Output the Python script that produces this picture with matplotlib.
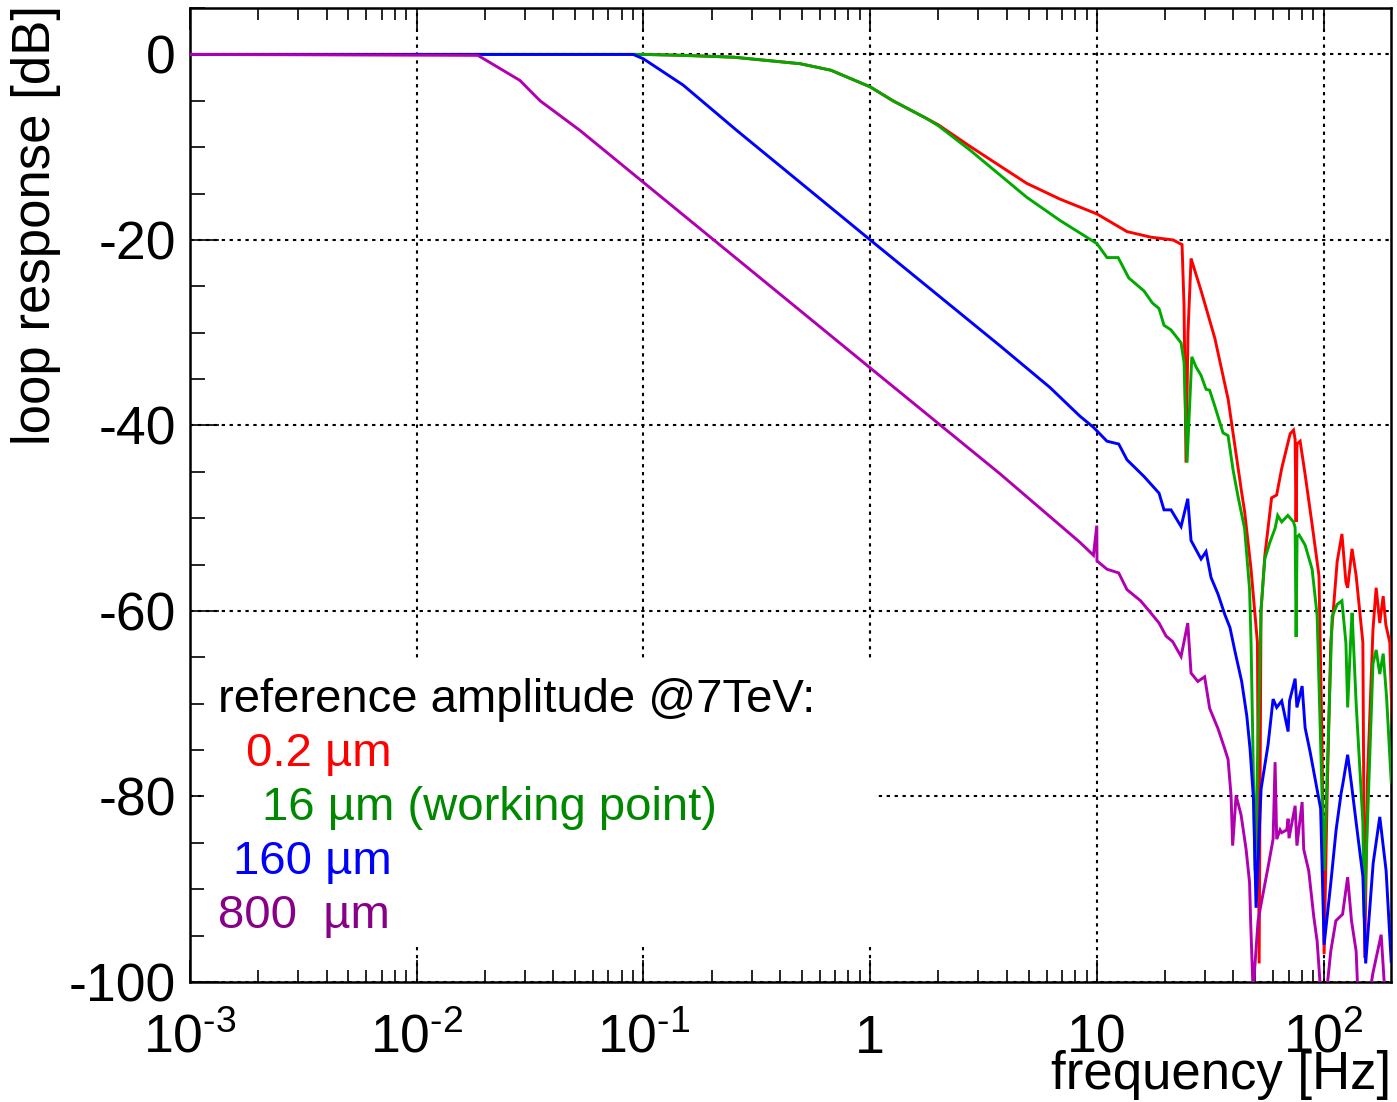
#!/usr/bin/env python3
"""plot.py -- loop response vs frequency for four reference amplitudes (ROOT-style look)."""
import matplotlib
matplotlib.use("Agg")
import matplotlib.pyplot as plt
from matplotlib.patches import Rectangle
from matplotlib.ticker import MultipleLocator, NullFormatter

plt.rcParams.update({"font.family": ["Liberation Sans", "DejaVu Sans"],
                     "mathtext.fontset": "custom",
                     "mathtext.rm": "Liberation Sans",
                     "mathtext.it": "Liberation Sans",
                     "axes.unicode_minus": False})

# --- 0.2 um (red) ---
RED_F = [0.001, 0.1, 0.15, 0.25, 0.49, 0.67, 1.0, 1.26, 1.77, 2.0, 2.75, 4.9, 6.87, 10.0,
         13.56, 17.26, 21.65, 23.25, 23.72, 24.2, 24.7, 25.2, 26.0, 28.8, 33.1, 37.9, 43.5,
         44.8, 47.8, 51.0, 51.9, 52.9, 55.0, 58.9, 62.0, 65.3, 71.1, 73.6, 74.8, 75.5, 76.2,
         78.7, 82.8, 88.9, 95.3, 98.4, 100.4, 103.5, 107.4, 114.6, 120.3, 125.3, 127.5, 133.3,
         139.0, 148.8, 151.7, 156.0, 164.9, 170.3, 176.7, 182.9, 187.9, 195.7, 200.0]
RED_DB = [0, 0, -0.1, -0.3, -1.0, -1.7, -3.5, -5.0, -6.9, -7.6, -9.9, -13.9, -15.6, -17.2,
          -19.1, -19.7, -20.0, -20.4, -20.5, -27.0, -44.0, -30.0, -22.0, -25.5, -30.6, -37.2, -47.3,
          -49.3, -55.5, -63.4, -98.0, -60.0, -54.0, -47.8, -47.5, -44.6, -40.9, -40.5, -41.5, -50.4, -42.0,
          -41.7, -45.3, -50.7, -56.2, -75.0, -97.0, -80.0, -63.4, -54.7, -51.7, -56.9, -57.5, -53.3,
          -56.2, -63.4, -97.4, -78.0, -62.0, -57.5, -61.3, -58.4, -61.5, -63.4, -72.0]

# --- 16 um, working point (green) ---
GREEN_F = [0.001, 0.1, 0.15, 0.25, 0.49, 0.67, 1.0, 1.26, 1.77, 2.0, 2.75, 4.9, 6.87, 10.0,
           11.07, 12.4, 13.81, 16.12, 17.56, 18.78, 19.75, 21.21, 23.49, 24.21, 24.96, 26.2,
           27.35, 28.77, 30.27, 31.4, 33.07, 35.97, 37.85, 39.83, 41.91, 44.77, 47.1, 47.82,
           49.8, 52.93, 54.96, 57.88, 61.02, 62.66, 65.27, 69.44, 73.58, 74.79, 75.55, 76.3,
           77.88, 82.78, 88.88, 93.53, 100.4, 108.9, 114.6, 120.3, 125.3, 127.5, 132.1, 133.4,
           139.0, 148.8, 150.8, 164.9, 170.3, 176.7, 182.9, 189.3, 198.4]
GREEN_DB = [0, 0, -0.1, -0.3, -1.0, -1.7, -3.5, -5.0, -6.9, -7.7, -10.3, -15.4, -17.9, -20.4,
            -21.9, -21.9, -24.1, -25.5, -26.8, -27.4, -29.2, -29.7, -31.1, -33.2, -44.0, -32.6,
            -33.7, -34.6, -36.1, -36.2, -37.9, -40.8, -41.1, -44.8, -47.7, -51.1, -57.7, -63.5,
            -88.0, -59.8, -54.4, -52.6, -51.1, -49.7, -50.4, -49.7, -50.4, -51.0, -62.8, -52.0,
            -51.8, -52.9, -55.5, -60.5, -88.0, -60.6, -59.3, -58.9, -63.5, -70.4, -62.0, -60.2,
            -70.0, -82.8, -93.0, -65.7, -64.2, -66.8, -64.6, -69.3, -78.4]

# --- 160 um (blue) ---
BLUE_F = [0.001, 0.09, 0.0999, 0.1495, 0.258, 1.0, 3.73, 6.2, 8.41, 9.65, 11.07, 12.47, 13.56,
          16.12, 18.78, 19.75, 21.21, 23.49, 25.14, 25.99, 28.77, 30.27, 31.85, 34.2, 36.64,
          38.6, 40.64, 43.47, 45.78, 47.34, 49.0, 50.3, 52.93, 56.83, 59.8, 62.03, 65.27, 69.65,
          70.65, 74.79, 76.17, 80.3, 82.78, 87.1, 91.62, 96.9, 100.4, 107.8, 113.4, 119.4,
          121.1, 127.5, 132.1, 139.0, 148.8, 153.1, 165.2, 176.7, 188.4, 198.4]
BLUE_DB = [0, 0, -0.47, -3.3, -8.2, -20.0, -31.4, -35.9, -39.0, -40.2, -41.7, -42.0, -43.7,
           -45.5, -47.3, -49.1, -49.1, -50.9, -47.9, -52.4, -54.4, -53.6, -56.4, -58.2, -60.4,
           -61.8, -64.4, -67.6, -71.3, -74.9, -80.3, -92.0, -79.2, -74.4, -69.5, -70.4, -69.7, -73.0,
           -69.7, -67.3, -70.4, -68.1, -72.6, -75.2, -78.1, -81.3, -96.0, -89.0, -83.6, -79.6,
           -78.8, -75.5, -78.4, -82.8, -88.6, -98.0, -87.2, -82.2, -88.0, -97.8]

# --- 800 um (magenta) ---
MAG_F = [0.001, 0.0186, 0.0203, 0.0285, 0.035, 0.0525, 0.1, 1.0, 3.73, 8.41, 9.65, 9.98, 10.0,
         11.07, 12.47, 13.56, 15.57, 17.26, 18.78, 20.16, 21.56, 23.49, 25.14, 25.99, 27.86,
         29.84, 31.4, 34.2, 36.64, 37.85, 39.02, 39.66, 41.06, 43.21, 45.46, 47.1, 47.6, 48.8,
         51.34, 52.93, 56.83, 59.8, 61.02, 62.03, 64.21, 65.27, 68.74, 69.65, 70.3, 74.79, 76.17,
         80.3, 81.61, 85.86, 90.43, 93.53, 96.9, 103.0, 107.4, 113.1, 121.1, 127.5, 132.6, 139.0,
         141.3, 160.0, 164.9, 179.2, 185.9, 198.4]
MAG_DB = [0, -0.1, -0.65, -2.8, -5.0, -8.2, -13.8, -33.8, -45.2, -52.6, -54.0, -50.8, -54.6,
          -55.5, -55.9, -57.7, -58.9, -60.2, -61.3, -62.7, -63.3, -64.9, -61.3, -66.7, -67.6,
          -67.1, -70.5, -72.7, -74.9, -76.0, -79.9, -85.3, -79.9, -82.0, -85.7, -89.3, -93.4, -101,
          -93.4, -91.6, -87.6, -84.6, -76.3, -84.6, -83.6, -83.9, -83.6, -82.4, -84.5, -81.0, -85.3,
          -80.6, -85.7, -88.0, -93.0, -95.6, -101, -101, -96.7, -93.4, -92.7, -88.7, -93.4, -96.7,
          -101, -101, -99.0, -94.9, -101, -101]

SERIES = [(RED_F, RED_DB, "#ff0000"), (GREEN_F, GREEN_DB, "#00aa00"),
          (BLUE_F, BLUE_DB, "#0000ff"), (MAG_F, MAG_DB, "#b000b0")]

LEGEND_TITLE = "reference amplitude @7TeV:"
LEGEND_ROWS = [("0.2 µm", "#ff0000", 0.0466), ("16 µm (working point)", "#008800", 0.0599),
               ("160 µm", "#0000ff", 0.0358), ("800  µm", "#880088", 0.0233)]

X_TICKS = [1e-3, 1e-2, 1e-1, 1, 10, 100]
X_LABELS = [r"$10^{\text{-}3}$", r"$10^{\text{-}2}$", r"$10^{\text{-}1}$", "1", "10", r"$10^{2}$"]
Y_TICKS = [-100, -80, -60, -40, -20, 0]


def main():
    fig = plt.figure(figsize=(13.97, 11.02), dpi=100)
    ax = fig.add_axes([0.1360, 0.1089, 0.8597, 0.8838])
    ax.set_xscale("log")

    for f, db, col in SERIES:
        ax.plot(f, db, color=col, lw=2.1, zorder=3, solid_joinstyle="miter")

    ax.set_xlim(1e-3, 198)
    ax.set_ylim(-100, 5)

    ax.set_xticks(X_TICKS)
    ax.set_xticklabels(X_LABELS)
    ax.xaxis.set_minor_formatter(NullFormatter())
    ax.set_yticks(Y_TICKS)
    ax.set_yticklabels([str(v) for v in Y_TICKS])
    ax.yaxis.set_minor_locator(MultipleLocator(5))

    ax.tick_params(axis="both", which="both", direction="in", width=1.2, colors="k")
    ax.tick_params(axis="x", which="major", length=16, top=True, labelsize=38.5, pad=51)
    ax.tick_params(axis="x", which="minor", length=8.6, top=True)
    ax.tick_params(axis="y", which="major", length=21, right=False, labelsize=38.5, pad=10)
    ax.tick_params(axis="y", which="minor", length=11, right=False)
    for lab in ax.get_xticklabels():
        lab.set_verticalalignment("baseline")

    for s in ax.spines.values():
        s.set_linewidth(1.8)

    ax.grid(True, which="major", color="k", lw=1.5, linestyle=(0, (1.6, 2.2)))

    ax.set_xlabel("frequency [Hz]", fontsize=38, loc="right")
    ax.xaxis.set_label_coords(1.0, -0.070)
    ax.set_ylabel("loop response [dB]", fontsize=38, loc="top")
    ax.yaxis.set_label_coords(-0.107, 1.003)

    # legend pave: white box hiding the grid
    ax.add_patch(Rectangle((0.0117, 0.038), 0.559, 0.2926, transform=ax.transAxes,
                           facecolor="white", edgecolor="none", zorder=2.6))
    ax.text(0.0233, 0.2772, LEGEND_TITLE, transform=ax.transAxes, fontsize=34,
            color="k", va="baseline", ha="left", zorder=4)
    for i, (txt, col, x0) in enumerate(LEGEND_ROWS):
        ax.text(x0, 0.2218 - i * 0.0555, txt, transform=ax.transAxes, fontsize=34,
                color=col, va="baseline", ha="left", zorder=4)

    fig.savefig("out.png", dpi=100)
    plt.close(fig)


if __name__ == "__main__":
    main()
